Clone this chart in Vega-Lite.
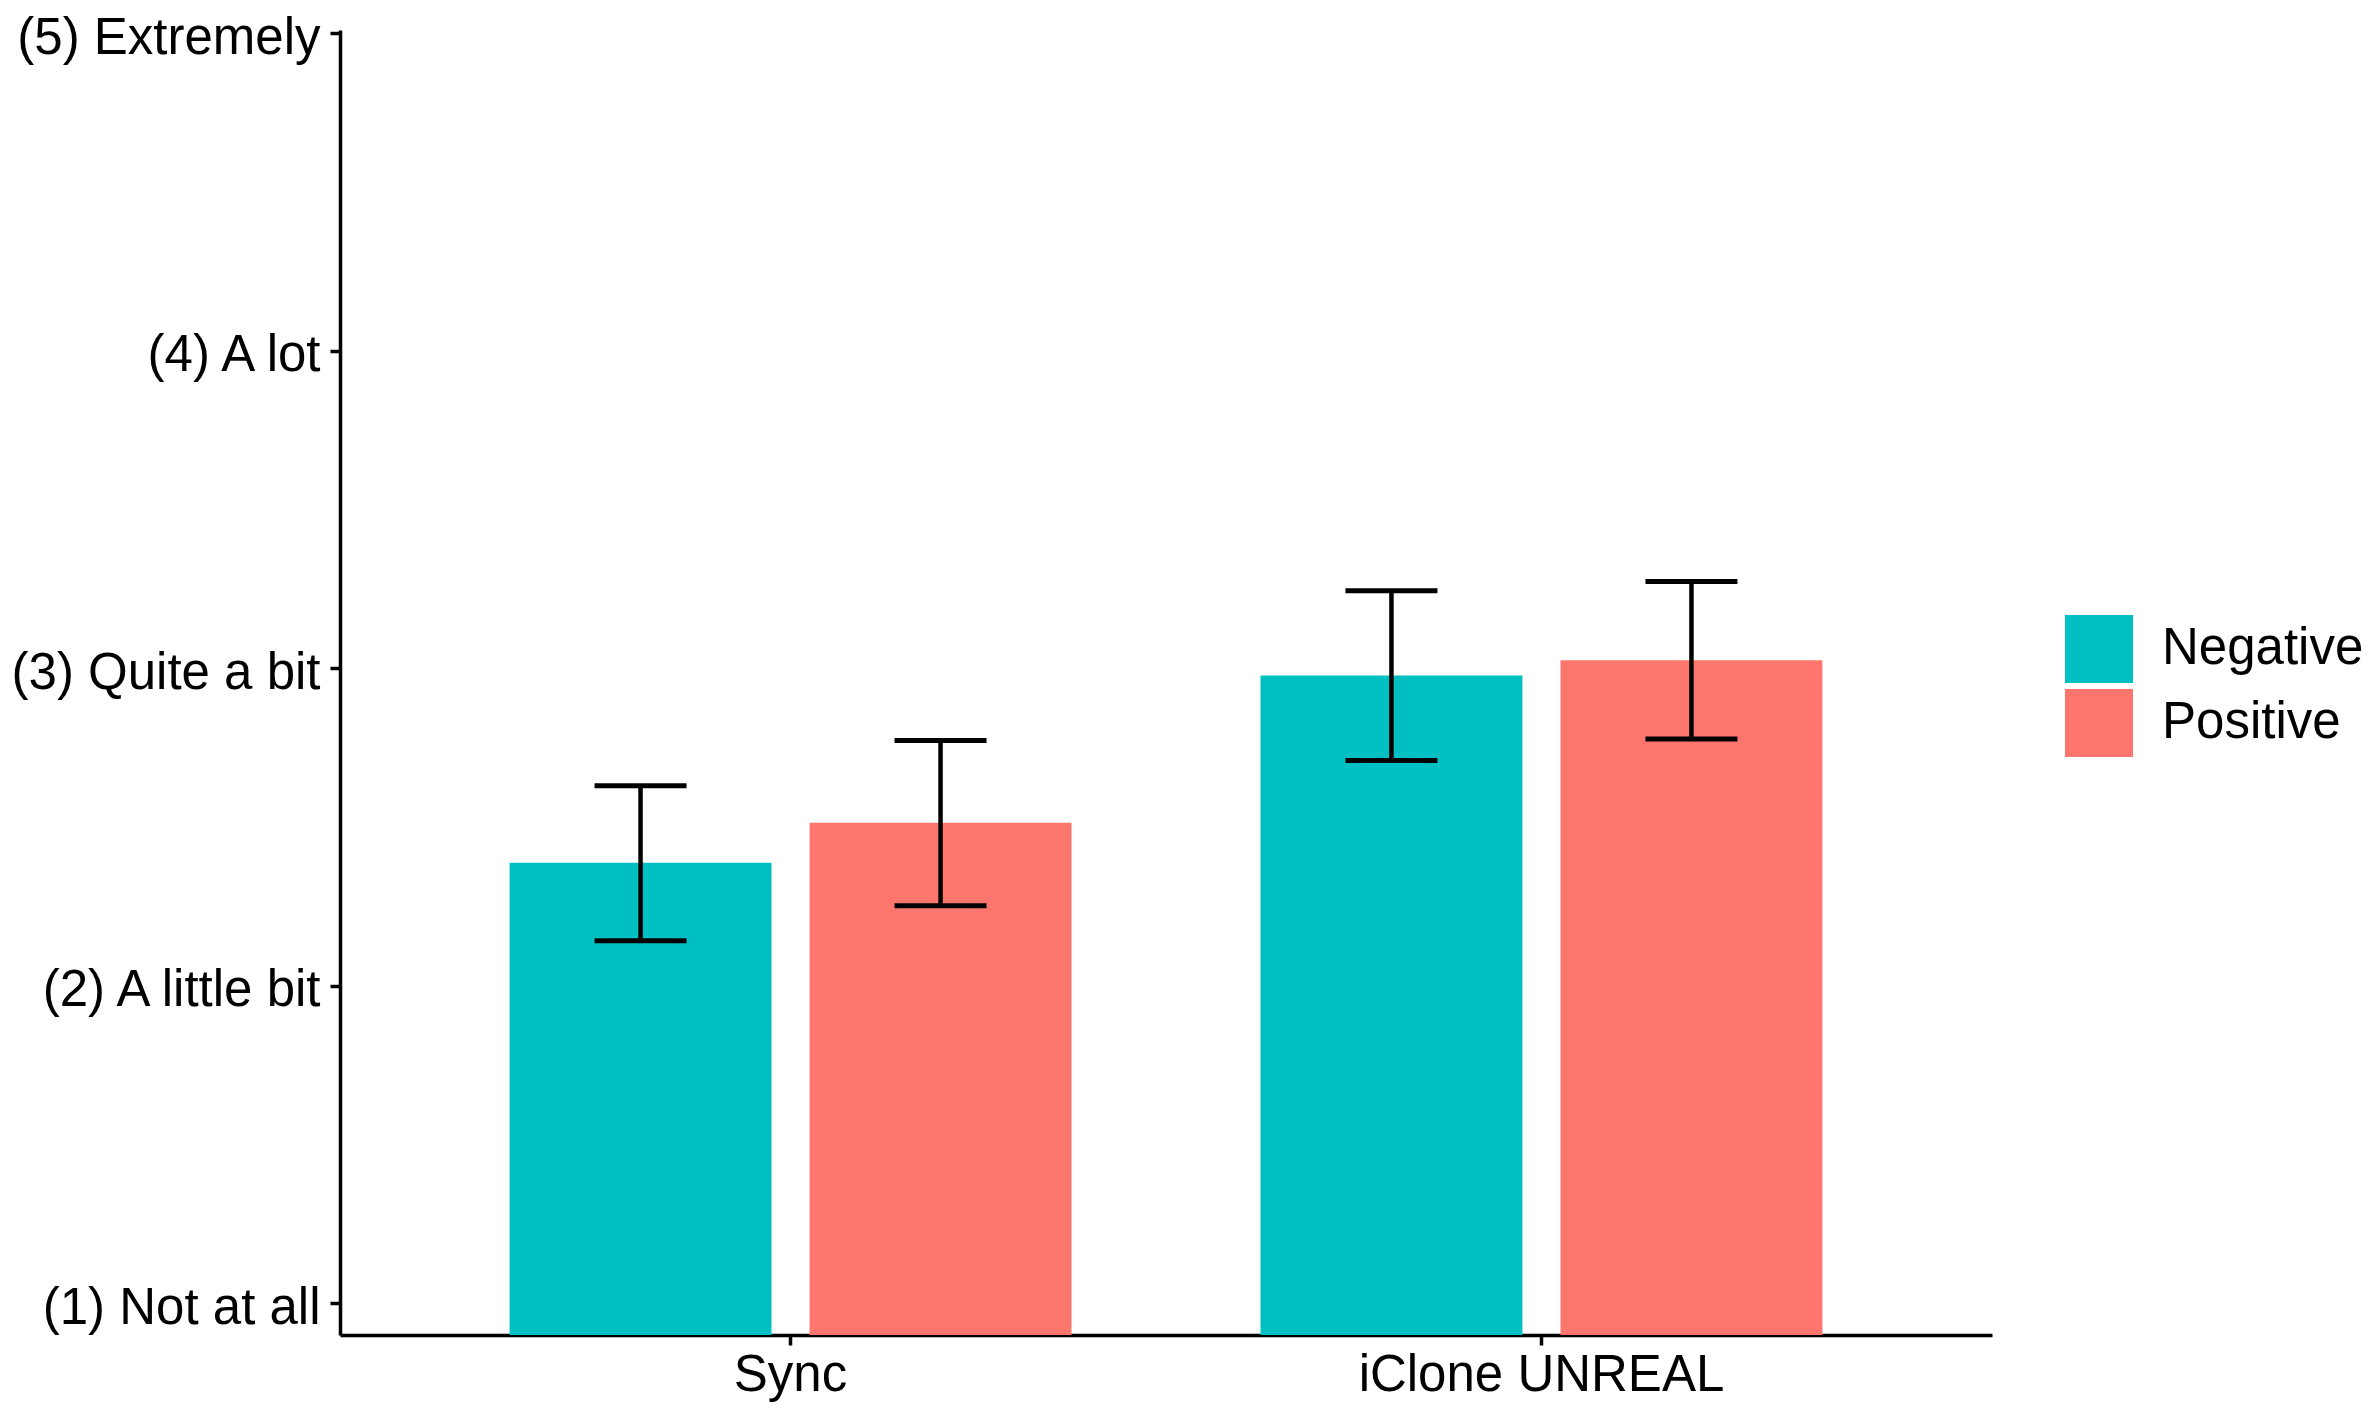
{
  "$schema": "https://vega.github.io/schema/vega-lite/v6.json",
  "width": 1652,
  "height": 1305,
  "autosize": "none",
  "padding": {"left": 340, "top": 30, "right": 382, "bottom": 84},
  "background": "white",
  "config": {
    "view": {"stroke": null},
    "font": "Liberation Sans",
    "axis": {
      "domainColor": "black",
      "domainWidth": 3.5,
      "tickColor": "black",
      "tickWidth": 3.5,
      "tickSize": 10,
      "labelColor": "black",
      "labelFontSize": 51,
      "labelFont": "Liberation Sans",
      "labelLimit": 0,
      "grid": false,
      "title": null
    }
  },
  "data": {
    "values": [
      {"software": "Sync", "valence": "Negative", "mean": 2.387, "lower": 2.142, "upper": 2.63},
      {"software": "Sync", "valence": "Positive", "mean": 2.513, "lower": 2.252, "upper": 2.772},
      {"software": "iClone UNREAL", "valence": "Negative", "mean": 2.977, "lower": 2.709, "upper": 3.244},
      {"software": "iClone UNREAL", "valence": "Positive", "mean": 3.025, "lower": 2.777, "upper": 3.273}
    ]
  },
  "encoding": {
    "x": {
      "field": "software",
      "type": "nominal",
      "sort": ["Sync", "iClone UNREAL"],
      "scale": {"paddingInner": 0, "paddingOuter": 0.1},
      "axis": {"labelAngle": 0, "labelPadding": 5, "labelLimit": 0, "title": null}
    },
    "xOffset": {
      "field": "valence",
      "type": "nominal",
      "sort": ["Negative", "Positive"],
      "scale": {"paddingInner": 0.127, "paddingOuter": 0.315}
    }
  },
  "layer": [
    {
      "mark": {"type": "bar"},
      "encoding": {
        "y": {
          "field": "mean",
          "type": "quantitative",
          "scale": {"domain": [0.9, 5.01], "zero": false, "nice": false},
          "axis": {
            "values": [1, 2, 3, 4, 5],
            "labelPadding": 10,
            "labelOffset": 5,
            "labelLimit": 0,
            "title": null,
            "labelExpr": "datum.value == 1 ? '(1) Not at all' : datum.value == 2 ? '(2) A little bit' : datum.value == 3 ? '(3) Quite a bit' : datum.value == 4 ? '(4) A lot' : '(5) Extremely'"
          }
        },
        "y2": {"datum": 0.9},
        "color": {
          "field": "valence",
          "type": "nominal",
          "sort": ["Negative", "Positive"],
          "scale": {"domain": ["Negative", "Positive"], "range": ["#00C0C4", "#FC766E"]},
          "legend": {
            "orient": "none",
            "legendX": 1725,
            "legendY": 585,
            "title": null,
            "symbolType": "square",
            "symbolSize": 4624,
            "symbolStrokeWidth": 0,
            "symbolOpacity": 1,
            "labelFontSize": 51,
            "labelColor": "black",
            "labelFont": "Liberation Sans",
            "labelLimit": 0,
            "labelOffset": 29,
            "rowPadding": 6
          }
        }
      }
    },
    {
      "mark": {"type": "rule", "color": "black", "strokeWidth": 4.5},
      "encoding": {
        "y": {"field": "lower", "type": "quantitative", "title": null},
        "y2": {"field": "upper"}
      }
    },
    {
      "mark": {"type": "tick", "color": "black", "size": 92, "thickness": 5, "orient": "horizontal", "opacity": 1},
      "encoding": {
        "y": {"field": "upper", "type": "quantitative", "title": null}
      }
    },
    {
      "mark": {"type": "tick", "color": "black", "size": 92, "thickness": 5, "orient": "horizontal", "opacity": 1},
      "encoding": {
        "y": {"field": "lower", "type": "quantitative", "title": null}
      }
    }
  ]
}
